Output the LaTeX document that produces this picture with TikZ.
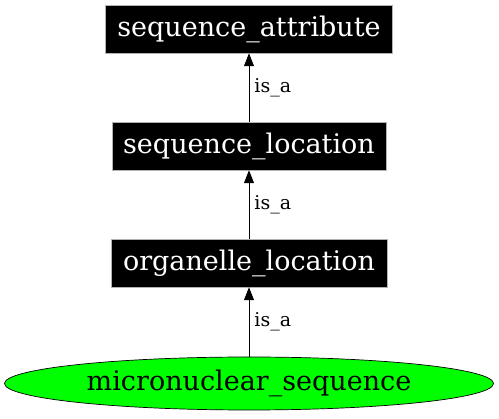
\documentclass[tikz,border=0pt]{standalone}
\usepackage{fontspec}
\setmainfont{DejaVu Serif}
\usetikzlibrary{shapes.geometric,arrows.meta}
\begin{document}
\begin{tikzpicture}[x=1pt,y=-1pt,
  termbox/.style={fill=black,draw=gray!60,line width=0.5pt,text=white,inner sep=0pt,font=\fontsize{27}{30}\selectfont},
  leaf/.style={ellipse,draw=black,fill=green,line width=0.7pt,inner sep=0pt,font=\fontsize{27}{30}\selectfont},
  isa/.style={draw=black,line width=0.9pt,-{Triangle[length=13pt,width=10pt]}},
  elabel/.style={font=\fontsize{19}{22}\selectfont,anchor=west,inner sep=0pt}]
\useasboundingbox (0,0) rectangle (499,419);
\node[termbox,minimum width=287,minimum height=48] (attr) at (249,29) {sequence\_attribute};
\node[termbox,minimum width=274,minimum height=48] (loc) at (249,146) {sequence\_location};
\node[termbox,minimum width=276,minimum height=48] (org) at (249,263) {organelle\_location};
\node[leaf,minimum width=489,minimum height=53] (micro) at (249,383.5) {micronuclear\_sequence};
\draw[isa] (micro.north) -- (org.south) node[pos=0.5,elabel,xshift=5pt] {is\_a};
\draw[isa] (org.north) -- (loc.south) node[pos=0.5,elabel,xshift=5pt] {is\_a};
\draw[isa] (loc.north) -- (attr.south) node[pos=0.5,elabel,xshift=5pt] {is\_a};
\end{tikzpicture}
\end{document}
